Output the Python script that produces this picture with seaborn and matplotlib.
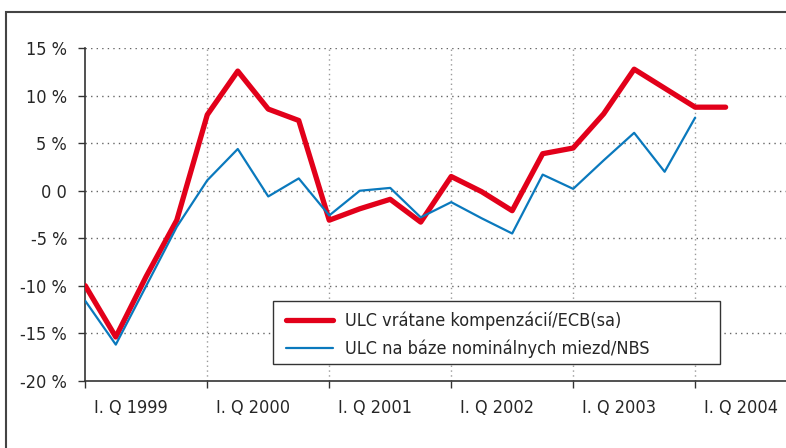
import matplotlib
matplotlib.use("Agg")
import matplotlib.pyplot as plt
from matplotlib.patches import Rectangle
import numpy as np
import pandas as pd
import seaborn as sns

# quarterly ULC growth, I.Q 1999 onwards
ulc_ecb = [-10.0, -15.4, -9.0, -3.1, 8.0, 12.6, 8.6, 7.4, -3.1, -1.9, -0.9,
           -3.3, 1.5, -0.1, -2.1, 3.9, 4.5, 8.1, 12.8, 10.8, 8.8, 8.8]
ulc_nbs = [-11.6, -16.2, -10.0, -3.8, 1.1, 4.4, -0.6, 1.3, -2.6, 0.0, 0.3,
           -2.8, -1.2, -2.9, -4.5, 1.7, 0.2, 3.2, 6.1, 2.0, 7.7]
series_names = ["ULC vrátane kompenzácií/ECB(sa)", "ULC na báze nominálnych miezd/NBS"]
year_labels = ["I. Q 1999", "I. Q 2000", "I. Q 2001", "I. Q 2002", "I. Q 2003", "I. Q 2004"]
y_ticks = [15, 10, 5, 0, -5, -10, -15, -20]
y_labels = ["15 %", "10 %", "5 %", "0 0", "-5 %", "-10 %", "-15 %", "-20 %"]

df = pd.concat([
    pd.DataFrame({"q": np.arange(len(ulc_ecb)), "val": ulc_ecb, "series": series_names[0]}),
    pd.DataFrame({"q": np.arange(len(ulc_nbs)), "val": ulc_nbs, "series": series_names[1]}),
])

sns.set_style("white")
plt.rcParams["font.family"] = ["DejaVu Sans"]
plt.rcParams["font.stretch"] = "condensed"

fig = plt.figure(figsize=(7.86, 4.48), dpi=100)
ax = fig.add_axes([85.3 / 786, 1 - 380.7 / 448, 1 - 85.3 / 786, (380.7 - 48.3) / 448])

red, blue = "#e2001a", "#0a79bd"
sns.lineplot(data=df, x="q", y="val", hue="series", size="series",
             palette=[red, blue], sizes=[3.8, 1.6], ax=ax, zorder=3)

ax.set_xlim(0, 22.98)
ax.set_ylim(-20, 15)
ax.set_xlabel("")
ax.set_ylabel("")

major_x = np.arange(0, 21, 4)
ax.set_xticks(major_x)
ax.set_xticklabels([""] * len(major_x))
ax.set_xticks(major_x + 1.5, minor=True)
ax.set_xticklabels(year_labels, minor=True, fontsize=13)
ax.tick_params(axis="x", which="major", direction="out", length=5, width=1, color="#333", bottom=True)
ax.tick_params(axis="x", which="minor", length=0, pad=13, bottom=True)

ax.set_yticks(y_ticks)
ax.set_yticklabels(y_labels, fontsize=13)
ax.tick_params(axis="y", direction="out", length=5, width=1, color="#333", pad=8, left=True)

for y in y_ticks:
    if y > -20:
        ax.axhline(y, color="#666", lw=1, ls=(0, (1, 3)), zorder=1)
for x in major_x[1:]:
    ax.axvline(x, color="#999", lw=1, ls=(0, (1, 2.5)), zorder=1)

for s in ["top", "right"]:
    ax.spines[s].set_visible(False)
for s in ["left", "bottom"]:
    ax.spines[s].set_color("#333")
    ax.spines[s].set_linewidth(1.2)

# legend box (wider than its text, as in the original)
ax.add_patch(Rectangle((0.268, 0.050), 0.638, 0.19, transform=ax.transAxes,
                       facecolor="white", edgecolor="#333", lw=1.0, zorder=4))
handles, labels = ax.get_legend_handles_labels()
leg = ax.legend(handles, labels, loc="upper left", bbox_to_anchor=(0.287, 0.207),
                fontsize=13, frameon=False, handlelength=2.6,
                borderpad=0, labelspacing=0.5, handletextpad=0.65, borderaxespad=0)
leg.set_zorder(5)

fig.add_artist(Rectangle((6 / 786, -0.1), 1.2, 1.1 - 12 / 448, transform=fig.transFigure,
                         fill=False, edgecolor="#444", lw=1.5))

fig.savefig("out.png", dpi=100, facecolor="white")
